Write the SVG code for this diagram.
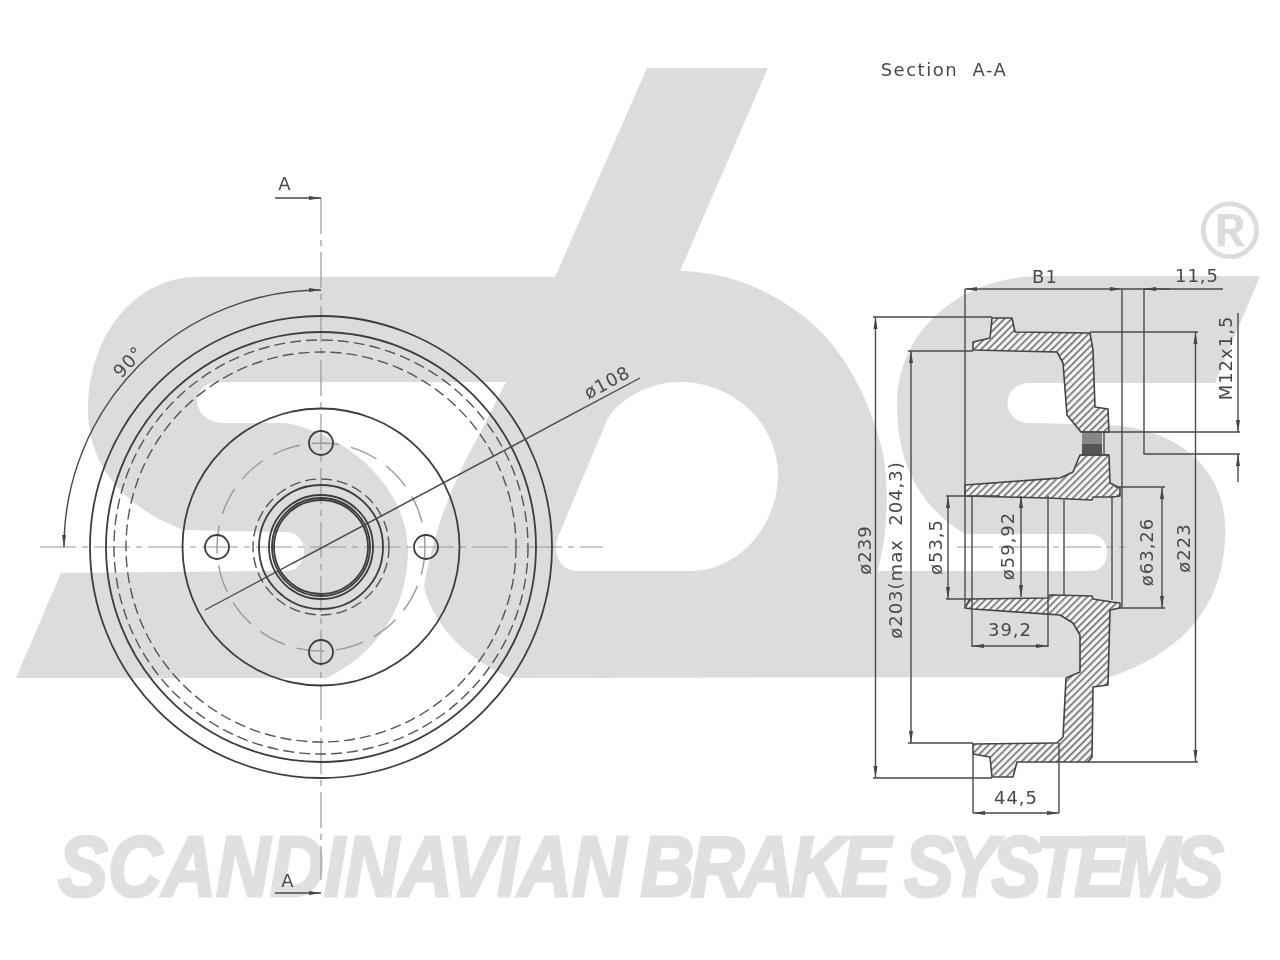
<svg xmlns="http://www.w3.org/2000/svg" width="1280" height="960" viewBox="0 0 1280 960">
<style>
.wm{fill:#dcdcdc}
.l{fill:none;stroke:#4a4a4a;stroke-width:1.4}
.o{fill:none;stroke:#3c3c3c;stroke-width:1.8}
.d{fill:none;stroke:#555;stroke-width:1.4;stroke-dasharray:11 5}
.c{fill:none;stroke:#999;stroke-width:1.2;stroke-dasharray:36 6 6 6}
.g{fill:none;stroke:#999;stroke-width:1.4;stroke-dasharray:28 12}
.t{font-family:"DejaVu Sans",sans-serif;font-size:18px;letter-spacing:1px;fill:#4a4a4a;text-anchor:middle;white-space:pre}
.sec{fill:url(#hatch);stroke:#444;stroke-width:1.6;stroke-linejoin:round}
</style>
<defs>
<pattern id="hatch" width="5" height="5" patternUnits="userSpaceOnUse" patternTransform="rotate(-45)">
<rect width="5" height="5" fill="#f4f4f4"/><rect width="5" height="1.5" fill="#666"/>
</pattern>
<marker id="ar" viewBox="0 0 12 6" refX="12" refY="3" markerWidth="12" markerHeight="6" markerUnits="userSpaceOnUse" orient="auto-start-reverse"><path d="M0 1L12 3L0 5Z" fill="#444"/></marker>
<filter id="soft" x="0" y="0" width="100%" height="100%"><feGaussianBlur stdDeviation="0.45"/></filter>
</defs>

<g filter="url(#soft)">
<g id="watermark">
<path class="wm" fill-rule="evenodd" d="M647 68L768 68L680 271C730 272 770 290 807 319C845 350 870 400 883 453C889 490 888 530 878 571L1090 571C1113 571 1113 534 1090 534L965 534C925 510 897 470 897 405C897 330 960 277 1040 276L1260 276L1215 383L1030 383C1000 383 1000 423 1030 423L1110 425C1190 430 1230 480 1225 540C1222 600 1190 650 1110 677L510 678C470 660 435 630 424 587C430 550 445 495 478 437L506 382L216 382C190 385 190 420 222 423L286 423C350 435 408 490 408 550C408 610 375 655 326 678L16 678L61 573L286 571C310 571 310 532 286 532L184 530C130 510 88 470 88 410C88 335 135 278 196 277L555 277Z
M558 537L607 420C620 398 650 382 680 382C735 382 778 425 778 474C778 525 740 571 690 571L577 571C560 571 552 552 558 537Z"/>
<text transform="scale(.87 1)" y="896" font-family="Liberation Sans,sans-serif" font-weight="700" font-style="italic" font-size="86" fill="#e0e0e0" stroke="#e0e0e0" stroke-width="3"><tspan x="66.700">SCANDINAVIAN</tspan> <tspan x="736" letter-spacing="-4.500">BRAKE</tspan> <tspan x="1039" letter-spacing="-7.200">SYSTEMS</tspan></text>
<text x="1230" y="258" font-family="Liberation Sans,sans-serif" font-weight="700" font-size="82" text-anchor="middle" fill="#dcdcdc">®</text>
</g>

<g id="front-view">
<path class="c" d="M321 198V880M40 547H603"/>
<circle class="o" cx="321" cy="547" r="231"/>
<circle class="o" cx="321" cy="547" r="215"/>
<circle class="d" cx="321" cy="547" r="207"/>
<circle class="d" cx="321" cy="547" r="195"/>
<circle class="o" cx="321" cy="547" r="138.500"/>
<circle class="g" cx="321" cy="547" r="104"/>
<circle class="d" cx="321" cy="547" r="68" stroke-dasharray="7 4"/>
<circle class="o" cx="321" cy="547" r="62"/>
<circle class="o" cx="321" cy="547" r="52"/>
<circle class="o" cx="321" cy="547" r="49"/>
<circle class="o" cx="321" cy="547" r="47"/>
<circle class="o" cx="321" cy="443" r="12"/>
<circle class="o" cx="217" cy="547" r="12"/>
<circle class="o" cx="426" cy="547" r="12"/>
<circle class="o" cx="321" cy="652" r="12"/>
<path class="l" d="M205 610L640 378"/>
<path class="l" marker-start="url(#ar)" marker-end="url(#ar)" d="M64 547A257 257 0 0 1 321 290"/>
<path class="l" marker-end="url(#ar)" d="M275 198H321"/>
<path class="l" marker-end="url(#ar)" d="M275 893H321"/>
<text class="t" x="285" y="190">A</text>
<text class="t" x="288" y="887">A</text>
<text class="t" transform="translate(133 366) rotate(-48)">90°</text>
<text class="t" transform="translate(610 388) rotate(-28)">ø108</text>
</g>

<g id="section-view">
<path class="sec" d="M973 350L973 342L990 338L992 318L1012 318L1015 332L1090 333L1093 350L1095 407L1108 409L1109 432L1081 432L1067 415L1063 363L1057 352Z"/>
<path class="sec" d="M1109 455L1110 483L1120 488L1120 496L1112 497L1093 497L1092 500L1048 498L965 496L965 485L1060 478L1073 472L1080 455Z"/>
<rect x="1082" y="433" width="20" height="11" fill="#888"/>
<rect x="1082" y="444" width="20" height="11" fill="#555"/>
<path class="l" d="M1081 432H1109M1081 455H1109M1104 432V455"/>
<path class="sec" d="M965 608L970 599L1048 598L1050 595L1092 596L1093 599L1112 602L1120 603L1120 608L1110 610L1108 685L1093 687L1092 757L1088 762L1017 762L1013 777L992 777L990 757L973 754L973 744L1057 743L1063 737L1066 678L1080 672L1080 635L1073 623L1060 615L973 609Z"/>
<path class="c" d="M957 547H1125"/>
</g>

<g id="dimensions">
<path class="l" d="M965 289V608M1122 289V608M1144 289V454H1240M1109 432H1240M972 496V647M1048 496V647M1064 500V596M1112 497V600M973 754V813M1059 743V813"/>
<path class="l" d="M873 317H992M873 778H992M908 351H973M908 743H973M1090 332H1198M1088 762H1198M1115 487H1165M1120 608H1165M946 496H1000M946 599H970"/>
<path class="l" marker-start="url(#ar)" marker-end="url(#ar)" d="M875.500 317V778"/>
<path class="l" marker-start="url(#ar)" marker-end="url(#ar)" d="M911 351V743"/>
<path class="l" marker-start="url(#ar)" marker-end="url(#ar)" d="M1195.500 332V762"/>
<path class="l" marker-start="url(#ar)" marker-end="url(#ar)" d="M1162 487V608"/>
<path class="l" marker-start="url(#ar)" marker-end="url(#ar)" d="M948 496V599"/>
<path class="l" marker-start="url(#ar)" marker-end="url(#ar)" d="M1021 496V597"/>
<path class="l" marker-start="url(#ar)" marker-end="url(#ar)" d="M965 289H1122"/>
<path class="l" d="M1122 289H1223"/>
<path class="l" marker-end="url(#ar)" d="M1170 289H1144"/>
<path class="l" marker-end="url(#ar)" d="M1238 313V432"/>
<path class="l" marker-end="url(#ar)" d="M1238 482V454"/>
<path class="l" marker-start="url(#ar)" marker-end="url(#ar)" d="M972 646H1048"/>
<path class="l" marker-start="url(#ar)" marker-end="url(#ar)" d="M973 813H1059"/>
<text class="t" x="1045" y="283">B1</text>
<text class="t" x="1197" y="282">11,5</text>
<text class="t" x="1010" y="636">39,2</text>
<text class="t" x="1016" y="804">44,5</text>
<text class="t" transform="translate(1232 358) rotate(-90)">M12x1,5</text>
<text class="t" transform="translate(871 550) rotate(-90)">ø239</text>
<text class="t" transform="translate(902 550) rotate(-90)">ø203(max  204,3)</text>
<text class="t" transform="translate(942 547) rotate(-90)">ø53,5</text>
<text class="t" transform="translate(1014 546) rotate(-90)">ø59,92</text>
<text class="t" transform="translate(1153 552) rotate(-90)">ø63,26</text>
<text class="t" transform="translate(1190 548) rotate(-90)">ø223</text>
<text x="944" y="76" class="t" style="letter-spacing:1.5px">Section  A-A</text>
</g>
</g>
</svg>
